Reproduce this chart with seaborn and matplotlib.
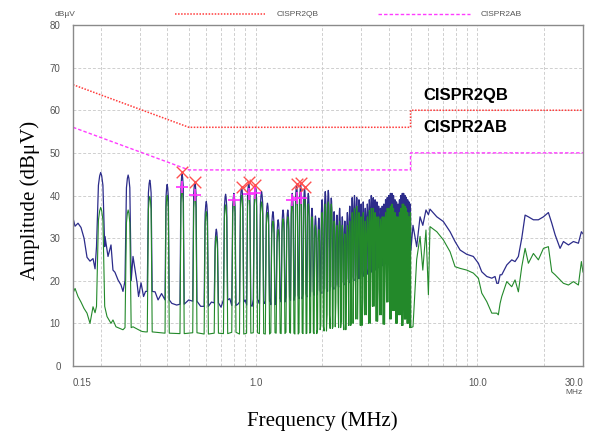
import numpy as np
import pandas as pd
import matplotlib
matplotlib.use('Agg')
import matplotlib.pyplot as plt
import seaborn as sns
from matplotlib.ticker import LogLocator, NullFormatter
from matplotlib.lines import Line2D

# limit lines (CISPR class B)
limit_freq = [0.15, 0.5, 5.0, 5.0, 30.0]
qb_level = [66, 56, 56, 60, 60]
ab_level = [56, 46, 46, 50, 50]

# harmonic spikes below 5 MHz
peak_freq = [0.200, 0.266, 0.333, 0.399, 0.466, 0.532, 0.599, 0.665, 0.732, 0.798,
             0.865, 0.931, 0.998, 1.064, 1.131, 1.197, 1.264, 1.330, 1.397, 1.463,
             1.530, 1.596, 1.663, 1.729, 1.796, 1.862, 1.929, 1.995, 2.062, 2.128,
             2.195, 2.261, 2.328, 2.394, 2.461, 2.527, 2.594, 2.660, 2.727, 2.793,
             2.860, 2.926, 2.993, 3.059, 3.126, 3.192, 3.259, 3.325, 3.392, 3.458,
             3.525, 3.591, 3.658, 3.724, 3.791, 3.857, 3.924, 3.990, 4.057, 4.123,
             4.190, 4.256, 4.323, 4.389, 4.456, 4.522, 4.589, 4.655, 4.722, 4.788,
             4.855, 4.921, 4.988]
blue_peak = [45.4, 44.8, 43.6, 42.6, 45.0, 43.3, 38.6, 32.1, 40.3, 40.5,
             42.0, 43.0, 42.3, 40.9, 38.2, 36.2, 34.3, 36.6, 36.6, 40.5,
             42.5, 42.5, 41.7, 40.5, 37.0, 35.2, 34.7, 39.0, 40.9, 41.2,
             39.4, 36.2, 35.4, 37.0, 35.0, 34.0, 36.0, 37.5, 39.5, 40.0,
             39.5, 39.0, 38.0, 38.5, 37.0, 38.0, 39.0, 40.0, 39.5, 39.0,
             38.5, 37.5, 37.0, 37.5, 38.0, 39.0, 39.5, 40.0, 40.5, 40.5,
             40.0, 39.0, 38.5, 38.0, 39.0, 40.0, 40.5, 40.5, 40.0, 39.5,
             39.0, 38.5, 38.0]
green_peak = [37.2, 36.6, 39.8, 40.0, 41.3, 40.1, 36.2, 30.5, 37.8, 38.8,
              40.0, 40.5, 40.5, 38.5, 36.0, 34.0, 32.0, 34.5, 35.0, 38.5,
              40.5, 40.5, 39.5, 38.0, 35.0, 33.0, 32.0, 36.0, 38.0, 38.5,
              38.0, 34.0, 33.0, 34.0, 33.0, 31.0, 33.0, 34.0, 36.0, 37.0,
              37.5, 36.0, 35.0, 36.0, 34.0, 35.0, 36.5, 37.0, 37.0, 36.0,
              35.0, 35.0, 34.5, 35.0, 35.0, 36.0, 37.0, 37.0, 37.5, 38.0,
              37.0, 36.0, 35.0, 35.0, 36.0, 37.0, 38.0, 38.0, 37.5, 37.0,
              36.0, 35.0, 36.0]
blue_base = [28.0, 20.0, 17.5, 15.5, 14.5, 15.2, 14.0, 14.8, 15.5, 14.2,
             15.0, 14.3, 15.6, 14.6, 15.2, 14.4, 15.8, 15.0, 16.2, 15.4,
             16.6, 15.8, 17.0, 16.2, 17.5, 16.6, 17.8, 17.0, 18.2, 17.5,
             18.6, 18.0, 19.2, 18.5, 19.8, 19.0, 20.5, 19.5, 21.0, 20.0,
             21.5, 20.5, 22.0, 21.0, 22.5, 21.5, 23.0, 22.0, 23.5, 22.5,
             24.0, 23.0, 24.5, 23.5, 25.0, 24.0, 25.5, 24.5, 26.0, 25.0,
             26.0, 25.0, 26.5, 25.5, 26.5, 25.5, 27.0, 26.0, 27.0, 26.0,
             27.0, 26.0, 27.0]
green_base = [14.0, 9.0, 8.0, 7.7, 7.6, 7.8, 7.5, 7.7, 7.6, 7.9,
              7.5, 7.7, 7.8, 7.6, 7.5, 7.8, 7.7, 7.6, 7.9, 7.7,
              7.5, 7.8, 7.6, 7.7, 7.9, 7.6, 8.5, 9.5, 8.2, 12.0,
              8.8, 9.2, 15.0, 9.0, 10.5, 8.5, 18.0, 9.5, 10.0, 20.0,
              11.0, 24.0, 9.5, 16.0, 12.0, 26.0, 10.0, 21.0, 14.0, 28.0,
              10.5, 18.0, 12.0, 25.0, 9.8, 22.0, 15.0, 27.0, 11.0, 19.0,
              13.0, 24.0, 10.0, 17.0, 12.0, 22.0, 9.5, 20.0, 11.0, 18.0,
              10.0, 15.0, 9.0]

# background (noise floor and broadband part above 5 MHz)
blue_bg_freq = [0.150, 0.1532, 0.158, 0.163, 0.1682, 0.1735, 0.179, 0.1847, 0.1886, 0.1925,
                0.2091, 0.2158, 0.2226, 0.2272, 0.2319, 0.2394, 0.247, 0.2521,
                0.2798, 0.2918, 0.2964, 0.3042, 0.3122, 0.3187,
                0.3519, 0.363, 0.3764, 0.4187, 0.4405,
                0.499, 0.565, 0.632, 0.698, 0.765, 0.832, 0.898, 0.964, 1.031, 1.097,
                1.164, 1.230, 1.297,
                5.13, 5.33, 5.52, 5.68, 5.87, 6.02, 6.12, 6.57, 7.03, 7.54,
                7.94, 8.37, 8.97, 9.60, 10.12, 10.48, 11.04, 11.63, 12.03, 12.25,
                12.45, 12.68, 12.90, 13.59, 14.31, 14.81, 15.33, 15.88, 16.44, 17.01,
                17.92, 18.87, 19.89, 20.94, 21.69, 22.45, 23.64, 24.48, 25.79, 27.15,
                28.6, 29.5, 30.0]
blue_bg_amp = [34.7, 32.8, 33.5, 32.5, 30.0, 25.5, 24.6, 25.2, 22.8, 27.0,
               30.4, 25.7, 28.4, 22.5, 22.0, 20.2, 19.0, 17.5,
               25.7, 19.5, 16.3, 19.5, 16.3, 17.5,
               17.4, 15.5, 17.0, 14.7, 14.3,
               15.5, 14.0, 15.0, 13.8, 15.8, 14.5, 15.5, 14.0, 15.2, 14.8,
               15.6, 14.6, 16.2,
               33.0, 28.0, 35.0, 33.0, 36.6, 35.5, 36.8, 35.0, 33.9, 31.5,
               29.2, 27.2, 26.2, 25.7, 24.1, 22.1, 21.0, 20.6, 21.0, 19.4,
               19.4, 21.4, 21.4, 23.7, 24.9, 24.5, 25.7, 30.0, 35.4, 35.0,
               34.3, 34.3, 35.0, 36.0, 33.5, 30.8, 27.6, 29.2, 28.4, 29.2,
               28.8, 31.5, 31.0]
green_bg_freq = [0.150, 0.1532, 0.158, 0.163, 0.1682, 0.1735, 0.179, 0.1847, 0.1886, 0.1925,
                 0.207, 0.2136, 0.2226, 0.2272, 0.2344, 0.2445, 0.2521,
                 0.2798, 0.2964, 0.3074, 0.3187,
                 5.13, 5.33, 5.52, 5.68, 5.87, 6.02, 6.12, 6.57, 7.03, 7.54,
                 7.94, 8.37, 8.97, 9.60, 10.12, 10.48, 11.04, 11.63, 12.03, 12.25,
                 12.45, 12.68, 12.90, 13.59, 14.31, 14.81, 15.33, 15.88, 16.44, 17.01,
                 17.92, 18.87, 19.89, 20.94, 21.69, 22.45, 23.64, 24.48, 25.79, 27.15,
                 28.6, 29.5, 30.0]
green_bg_amp = [17.1, 18.2, 16.3, 15.0, 13.5, 12.4, 10.0, 13.9, 12.5, 15.5,
                13.9, 11.6, 10.0, 10.8, 9.2, 8.8, 8.5,
                9.2, 8.5, 8.1, 8.0,
                9.2, 25.0, 30.4, 22.5, 31.9, 16.7, 32.7, 31.5, 29.6, 26.8,
                23.3, 22.9, 22.5, 21.8, 20.6, 17.1, 15.1, 12.4, 12.4, 12.4,
                12.0, 14.7, 16.3, 19.8, 18.6, 20.2, 17.4, 23.3, 27.6, 24.1,
                26.4, 24.9, 27.6, 28.0, 22.1, 21.4, 20.2, 19.4, 19.0, 19.8,
                19.0, 24.5, 22.0]

# detector markers
qp_mark_freq = [0.466, 0.532, 0.865, 0.931, 0.998, 1.530, 1.596, 1.663]
qp_mark_amp = [45.4, 43.2, 42.0, 43.1, 42.5, 42.7, 43.0, 42.0]
av_mark_freq = [0.466, 0.532, 0.798, 0.931, 0.998, 1.463, 1.530, 1.596]
av_mark_amp = [42.0, 40.2, 39.0, 40.3, 40.5, 39.0, 39.3, 39.3]


def build_trace(bg_f, bg_v, pk_f, pk_v, base_v):
    # spike outline: steep sides with a rounded top
    pts = []
    windows = []
    for f, p, b in zip(pk_f, pk_v, base_v):
        w = max(0.0085, min(0.022 * f, 0.026))
        pts += [(f - w, b), (f - 0.55 * w, p - 3.0), (f - 0.25 * w, p - 0.8), (f, p),
                (f + 0.25 * w, p - 0.8), (f + 0.55 * w, p - 3.0), (f + w, b)]
        windows.append((f - w, f + w))
    for f, v in zip(bg_f, bg_v):
        if not any(lo <= f <= hi for lo, hi in windows):
            pts.append((f, v))
    pts.sort()
    return pd.DataFrame(pts, columns=['freq', 'amp'])


blue_df = build_trace(blue_bg_freq, blue_bg_amp, peak_freq, blue_peak, blue_base)
green_df = build_trace(green_bg_freq, green_bg_amp, peak_freq, green_peak, green_base)
limit_df = pd.DataFrame({'freq': limit_freq, 'qb': qb_level, 'ab': ab_level})

sns.set_style('white')
plt.rcParams['font.family'] = ['Liberation Sans', 'DejaVu Sans']

fig = plt.figure(figsize=(6.04, 4.41), dpi=100)
ax = fig.add_axes([73 / 604, 1 - 366 / 441, 510 / 604, 341 / 441])
ax.set_xscale('log')

qb_col = '#ff3b3b'
ab_col = '#ff3cff'
sns.lineplot(data=blue_df, x='freq', y='amp', ax=ax, color='#2c2c8a', lw=0.9,
             estimator=None, sort=False)
sns.lineplot(data=green_df, x='freq', y='amp', ax=ax, color='#23892a', lw=0.8,
             estimator=None, sort=False)
sns.lineplot(data=limit_df, x='freq', y='qb', ax=ax, color=qb_col, lw=1.1,
             linestyle=(0, (1, 1)), estimator=None, sort=False)
sns.lineplot(data=limit_df, x='freq', y='ab', ax=ax, color=ab_col, lw=1.0,
             linestyle=(0, (2.5, 1.5)), estimator=None, sort=False)
sns.scatterplot(x=qp_mark_freq, y=qp_mark_amp, ax=ax, marker='x', s=70,
                color='#ff5050', linewidth=1.0, zorder=5)
sns.scatterplot(x=av_mark_freq, y=av_mark_amp, ax=ax, marker='+', s=70,
                color='#ff30ff', linewidth=1.2, zorder=5)

ax.set_xlim(0.15, 30)
ax.set_ylim(0, 80)
ax.set_xticks([0.15, 1, 10, 30])
ax.set_xticklabels(['0.15', '1.0', '10.0', '30.0'])
ax.xaxis.set_minor_locator(LogLocator(base=10, subs=np.arange(2, 10)))
ax.xaxis.set_minor_formatter(NullFormatter())
ax.set_yticks(np.arange(0, 81, 10))
ax.tick_params(which='major', length=3, width=0.8, color='#777777',
               labelsize=7, labelcolor='#555555', pad=6)
ax.tick_params(which='minor', length=0)
labs = ax.get_xticklabels()
labs[0].set_ha('left')
labs[-1].set_ha('right')
ax.grid(which='both', ls=(0, (3, 2)), color='#cfcfcf', lw=0.7)
ax.set_axisbelow(True)
for sp in ax.spines.values():
    sp.set_color('#8a8a8a')
    sp.set_linewidth(1.0)
ax.set_xlabel('')
ax.set_ylabel('')

ax.text(5.69, 63.5, 'CISPR2QB', fontsize=12, fontweight='bold', va='center',
        ha='left', color='black')
ax.text(5.69, 55.9, 'CISPR2AB', fontsize=12, fontweight='bold', va='center',
        ha='left', color='black')

# legend row above plot
fig.add_artist(Line2D([175 / 604, 265 / 604], [1 - 14 / 441] * 2, color=qb_col,
                      lw=1.1, linestyle=(0, (1, 1))))
fig.text(277 / 604, 1 - 14 / 441, 'CISPR2QB', fontsize=6, color='#555555', va='center')
fig.add_artist(Line2D([378 / 604, 470 / 604], [1 - 14 / 441] * 2, color=ab_col,
                      lw=1.0, linestyle=(0, (2.5, 1.5))))
fig.text(481 / 604, 1 - 14 / 441, 'CISPR2AB', fontsize=6, color='#555555', va='center')
fig.text(55 / 604, 1 - 14 / 441, 'dBµV', fontsize=6, color='#555555', va='center')
fig.text(583 / 604, 1 - 392 / 441, 'MHz', fontsize=6, color='#555555', va='center', ha='right')

fig.text(322 / 604, 1 - 421 / 441, 'Frequency (MHz)', fontsize=15, color='black',
         family='Liberation Serif', ha='center', va='center')
fig.text(30 / 604, 1 - 200 / 441, 'Amplitude (dBμV)', fontsize=15, color='black',
         family='Liberation Serif', ha='center', va='center', rotation=90)

fig.savefig('out.png', dpi=100)
